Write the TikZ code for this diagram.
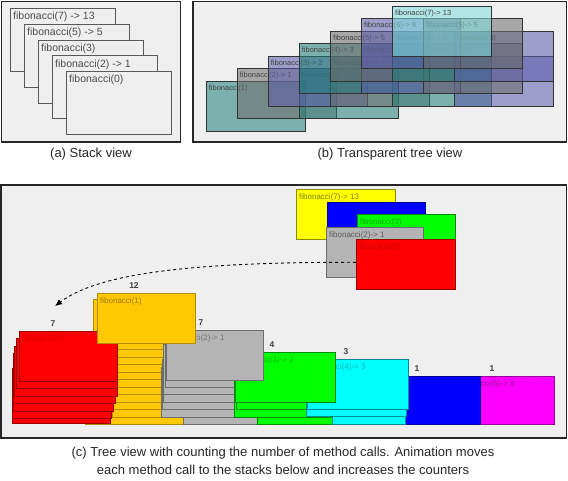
\documentclass[tikz,border=0pt]{standalone}
\usepackage{fontspec}
\setmainfont{Liberation Sans}
\usetikzlibrary{arrows.meta, positioning}

\definecolor{panelbg}{HTML}{EFEFEF}
\definecolor{gcyan}{HTML}{80E0E0}
\definecolor{gpurple}{HTML}{5C5CAC}
\definecolor{ggray}{HTML}{6C6C6C}
\definecolor{gteal}{HTML}{1E7E76}
\definecolor{cred}{HTML}{FF0000}
\definecolor{cgold}{HTML}{FFC800}
\definecolor{cgray}{HTML}{B4B4B4}
\definecolor{cgreen}{HTML}{00FF00}
\definecolor{ccyan}{HTML}{00FFFF}
\definecolor{cblue}{HTML}{0000FF}
\definecolor{cmag}{HTML}{FF00FF}
\definecolor{cyel}{HTML}{FFFF00}

\begin{document}
\begin{tikzpicture}[x=1pt, y=-1pt,
  panel/.style={draw=black!85, line width=1.3pt, fill=panelbg},
  captxt/.style={font=\fontsize{13}{18}\selectfont, text=black!85},
  stackbox/.style={draw=black!65, line width=0.8pt, fill=panelbg,
                   anchor=north west, inner sep=0pt,
                   minimum width=105pt, minimum height=63pt},
  stacklbl/.style={anchor=north west, inner sep=0pt,
                   font=\fontsize{10.5}{12}\selectfont, text=black!70},
  glass/.style={draw=black!80, line width=0.5pt, fill opacity=0.55,
                anchor=north west, inner sep=0pt,
                minimum width=99pt, minimum height=50pt},
  glasslbl/.style={anchor=north west, inner sep=0pt,
                   font=\fontsize{7.5}{9}\selectfont, text=black!75},
  cbox/.style={line width=0.6pt, anchor=north west, inner sep=0pt,
               minimum height=50pt},
  clbl/.style={anchor=north west, inner sep=0pt,
               font=\fontsize{8}{9}\selectfont},
  cnt/.style={font=\bfseries\fontsize{8.5}{10}\selectfont, text=black!75},
  move/.style={dashed, line width=0.9pt, -{Latex[length=7pt,width=6pt]}}
]
\useasboundingbox (0,0) rectangle (568,480);

% (a) stack view
\draw[panel] (1.5,1.5) rectangle (180.5,142);
\foreach \t [count=\k from 0] in {fibonacci(7) -> 13, fibonacci(5) -> 5,
    fibonacci(3), fibonacci(2) -> 1, fibonacci(0)}{
  \node[stackbox] (sbox\k) at ({10+14*\k}, {8+15.75*\k}) {};
  \node[stacklbl] (slbl\k) at ([shift={(3pt,-4pt)}]sbox\k.north west) {\t};
}
\node[captxt] (capa) at (91,154) {(a) Stack view};

% (b) transparent tree view
\draw[panel] (193,1.5) rectangle (566.5,142);
\foreach \x/\y/\c/\t [count=\k] in {
    205.7/80.7/gteal/{fibonacci(1)},
    236.7/68.3/ggray/{fibonacci(2)-> 1},
    298.7/68.3/gteal/{fibonacci(1)},
    267.7/55.7/gpurple/{fibonacci(3)-> 2},
    330/55.7/ggray/{fibonacci(2)-> 1},
    392/55.7/gteal/{fibonacci(2)-> 1},
    454/55.7/gpurple/{fibonacci(0)},
    298.7/43.3/gteal/{fibonacci(4)-> 3},
    361/43.3/gpurple/{fibonacci(3)-> 2},
    423/43.3/ggray/{fibonacci(3)-> 2},
    330/30.7/ggray/{fibonacci(5)-> 5},
    392/30.7/gteal/{fibonacci(4)-> 3},
    454/30.7/gpurple/{fibonacci(3)},
    361/18.3/gpurple/{fibonacci(6)-> 8},
    423/18.3/ggray/{fibonacci(5)-> 5},
    392/6/gcyan/{fibonacci(7)-> 13}}{
  \node[glass, fill=\c] (gbox\k) at (\x,\y) {};
  \node[glasslbl] (glbl\k) at ([shift={(3pt,-4pt)}]gbox\k.north west) {\t};
}
\node[captxt] (capb) at (390,154) {(b) Transparent tree view};

% (c) tree view with counters
\draw[panel] (1,185) rectangle (566.5,438);

% single boxes on the right
\node[cbox, fill=cmag, draw=cmag!60!black, minimum width=98pt,
      minimum height=48pt] (magtop) at (456,376) {};
\node[clbl, text=cmag!60!black] (maglbl)
  at ([shift={(3pt,-4pt)}]magtop.north west) {fibonacci(6)-> 8};
\node[cbox, fill=cblue, draw=cblue!60!black, minimum width=98pt,
      minimum height=48pt] (bluetop) at (382,376) {};

% lower boxes of the stacks
\foreach \x/\y/\w [count=\k] in {85/374/98, 112/366.5/82, 112/359/82,
    113/351.5/81, 113/344/81, 114/336.5/80, 114/329/80, 115/321.5/79,
    115/314/79, 116/306.5/78, 93/299/102}
  \node[cbox, fill=cgold, draw=cgold!70!black, minimum width=\w pt]
    (goldlow\k) at (\x,\y) {};
\foreach \x/\y/\w [count=\k] in {12/373/98, 12/368/99, 13/361/100,
    13/353/102, 14/346/103, 16/338/101}
  \node[cbox, fill=cred, draw=cred!60!black, minimum width=\w pt]
    (redlow\k) at (\x,\y) {};
\foreach \x/\y/\w [count=\k] in {183/374/98, 161/367/98, 162/359/98,
    163/352/98, 163/344/98, 165/337/97}
  \node[cbox, fill=cgray, draw=cgray!60!black, minimum width=\w pt]
    (graylow\k) at (\x,\y) {};
\foreach \x/\y/\w [count=\k] in {257/374/98, 234/367/98, 236/359/98}
  \node[cbox, fill=cgreen, draw=cgreen!55!black, minimum width=\w pt]
    (greenlow\k) at (\x,\y) {};
\foreach \x/\y/\w [count=\k] in {332/374/73, 306/366/100}
  \node[cbox, fill=ccyan, draw=ccyan!55!black, minimum width=\w pt]
    (cyanlow\k) at (\x,\y) {};

% top boxes of the stacks
\node[cbox, fill=ccyan, draw=ccyan!55!black, minimum width=101pt]
  (cyantop) at (307,359) {};
\node[clbl, text=ccyan!70!black] (cyanlbl)
  at ([shift={(3pt,-4pt)}]cyantop.north west) {fibonacci(4)-> 3};
\node[cbox, fill=cgreen, draw=cgreen!55!black, minimum width=100pt]
  (greentop) at (235,352) {};
\node[clbl, text=cgreen!70!black] (greenlbl)
  at ([shift={(3pt,-4pt)}]greentop.north west) {fibonacci(3)-> 2};
\node[cbox, fill=cgray, draw=cgray!60!black, minimum width=97pt]
  (graytop) at (166,330) {};
\node[clbl, text=cgray!65!black] (graylbl)
  at ([shift={(3pt,-4pt)}]graytop.north west) {fibonacci(2)-> 1};
\node[cbox, fill=cred, draw=cred!60!black, minimum width=98pt]
  (redtop) at (19,331) {};
\node[clbl, text=cred!85!black] (redlbl)
  at ([shift={(3pt,-4pt)}]redtop.north west) {fibonacci(0)};
\node[cbox, fill=cgold, draw=cgold!70!black, minimum width=98pt]
  (goldtop) at (97,293) {};
\node[clbl, text=cgold!60!black] (goldlbl)
  at ([shift={(3pt,-4pt)}]goldtop.north west) {fibonacci(1)};

% counters
\node[cnt] (nred) at ([shift={(34pt,7pt)}]redtop.north west) {7};
\node[cnt] (ngold) at ([shift={(37pt,7pt)}]goldtop.north west) {12};
\node[cnt] (ngray) at ([shift={(35pt,7pt)}]graytop.north west) {7};
\node[cnt] (ngreen) at ([shift={(37pt,7pt)}]greentop.north west) {4};
\node[cnt] (ncyan) at ([shift={(39pt,7pt)}]cyantop.north west) {3};
\node[cnt] (nblue) at ([shift={(35pt,7pt)}]bluetop.north west) {1};
\node[cnt] (nmag) at ([shift={(36pt,7pt)}]magtop.north west) {1};

% stack being moved
\node[cbox, fill=cyel, draw=cyel!55!black, minimum width=99pt]
  (stk1) at (296,189) {};
\node[clbl, text=cyel!50!black] (stk1lbl)
  at ([shift={(3pt,-4pt)}]stk1.north west) {fibonacci(7)-> 13};
\node[cbox, fill=cblue, draw=cblue!60!black, minimum width=98pt]
  (stk2) at (327,202) {};
\node[cbox, fill=cgreen, draw=cgreen!55!black, minimum width=98pt]
  (stk3) at (357,214) {};
\node[clbl, text=cgreen!65!black] (stk3lbl)
  at ([shift={(3pt,-4pt)}]stk3.north west) {fibonacci(3)};
\node[cbox, fill=cgray, draw=cgray!60!black, minimum width=97pt]
  (stk4) at (326,227) {};
\node[clbl, text=cgray!50!black] (stk4lbl)
  at ([shift={(3pt,-4pt)}]stk4.north west) {fibonacci(2)-> 1};
\node[cbox, fill=cred, draw=cred!60!black, minimum width=99pt]
  (stk5) at (356,239) {};
\node[clbl, text=cred!80!black] (stk5lbl)
  at ([shift={(3pt,-4pt)}]stk5.north west) {fibonacci(0)};

\coordinate (drop) at (55,306);
\draw[move] ([yshift=2pt]stk5.west) .. controls (200,262) and (100,272) .. (drop);

\node[captxt, align=center] (capc) at (283,461)
  {(c) Tree view with counting the number of method calls. Animation moves\\
   each method call to the stacks below and increases the counters};
\end{tikzpicture}
\end{document}
